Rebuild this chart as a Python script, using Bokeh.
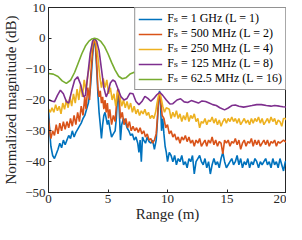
from bokeh.plotting import figure
from bokeh.models import Legend, LegendItem, Range1d, FixedTicker
from bokeh.embed import file_html
from bokeh.resources import INLINE

# ---------------- data ----------------
x_ticks = [0, 5, 10, 15, 20]
y_ticks = [-50, -40, -30, -20, -10, 0, 10]

series_labels = [
    "Fₛ = 1 GHz (L = 1)",
    "Fₛ = 500 MHz (L = 2)",
    "Fₛ = 250 MHz (L = 4)",
    "Fₛ = 125 MHz (L = 8)",
    "Fₛ = 62.5 MHz (L = 16)",
]

tail_x = [10.15, 10.3, 10.45, 10.6, 10.75, 10.9, 11.05, 11.2, 11.35, 11.5,
          11.65, 11.8, 11.95, 12.1, 12.25, 12.4, 12.55, 12.7, 12.85, 13.0,
          13.15, 13.3, 13.45, 13.6, 13.75, 13.9, 14.05, 14.2, 14.35, 14.5,
          14.65, 14.8, 14.95, 15.1, 15.25, 15.4, 15.55, 15.7, 15.85, 16.0,
          16.15, 16.3, 16.45, 16.6, 16.75, 16.9, 17.05, 17.2, 17.35, 17.5,
          17.65, 17.8, 17.95, 18.1, 18.25, 18.4, 18.55, 18.7, 18.85, 19.0,
          19.15, 19.3, 19.45, 19.6, 19.75, 19.9, 20.0]

# 1 GHz (L = 1)
blue_x = [0.0, 0.1, 0.2, 0.35, 0.5, 0.65, 0.8, 0.95, 1.1, 1.25,
          1.4, 1.55, 1.7, 1.85, 2.0, 2.15, 2.3, 2.45, 2.6, 2.75,
          2.9, 3.05, 3.2, 3.35, 3.5, 3.6, 3.7, 3.8, 3.87, 3.95,
          4.05, 4.15, 4.25, 4.35, 4.45, 4.55, 4.65, 4.75, 4.85, 4.95,
          5.05, 5.15, 5.3, 5.45, 5.6, 5.7, 5.8, 5.87, 5.95, 6.05,
          6.15, 6.3, 6.45, 6.6, 6.75, 6.9, 7.05, 7.2, 7.35, 7.5,
          7.6, 7.7, 7.8, 7.9, 8.0, 8.15, 8.3, 8.45, 8.6, 8.75,
          8.9, 9.05, 9.15, 9.25, 9.33, 9.42, 9.5, 9.6, 9.7, 9.8,
          9.9, 10.0] + tail_x
blue_y = [-23, -30, -35, -38, -39, -37.5, -36, -34, -35.5, -33,
          -34.5, -33, -31.5, -32.5, -30, -32, -30.5, -29.5, -28.5, -27.5,
          -26, -25, -23, -21, -17, -12, -6, -1.5, 0, -3,
          -10, -18, -24, -28, -32.5, -28, -25, -24, -26, -28,
          -26.5, -29, -32, -31, -30, -26, -19, -16.5, -24, -33,
          -28, -26, -27, -29, -30, -31.5, -31, -33, -32, -34,
          -37, -33, -40, -32, -33, -34, -32, -33.5, -34, -33,
          -36, -33, -27, -20, -17, -22, -30, -26, -31, -35,
          -37, -40,
          -37, -38, -40, -38, -41, -39, -40, -38, -41, -40,
          -42, -39, -40, -38, -44, -40, -39, -38, -40, -41,
          -39, -42, -40, -44, -41, -39, -41, -40, -42, -39,
          -37, -40, -42, -41, -40, -39, -41, -40, -38, -41,
          -39, -42, -40, -41, -39, -42, -40, -41, -39, -40,
          -42, -40, -41, -40, -39, -41, -40, -42, -39, -41,
          -40, -42, -39, -41, -43, -40, -40]

# 500 MHz (L = 2)
orange_x = [0.0, 0.1, 0.2, 0.35, 0.5, 0.65, 0.8, 0.95, 1.1, 1.25,
            1.4, 1.55, 1.7, 1.85, 2.0, 2.15, 2.3, 2.45, 2.6, 2.75,
            2.9, 3.05, 3.15, 3.3, 3.45, 3.55, 3.65, 3.75, 3.85, 3.95,
            4.05, 4.15, 4.25, 4.35, 4.45, 4.55, 4.65, 4.75, 4.85, 4.95,
            5.05, 5.15, 5.3, 5.45, 5.6, 5.7, 5.8, 5.87, 5.95, 6.05,
            6.2, 6.35, 6.5, 6.65, 6.8, 6.95, 7.1, 7.25, 7.4, 7.55,
            7.7, 7.85, 8.0, 8.15, 8.3, 8.45, 8.6, 8.75, 8.9, 9.05,
            9.15, 9.25, 9.35, 9.45, 9.55, 9.7, 9.85, 10.0] + tail_x
orange_y = [-26, -30, -32.5, -30, -31.5, -28, -31, -27.5, -30, -27,
            -29.5, -27, -29, -26, -28.5, -25, -28, -24, -27, -22,
            -25, -19, -23, -16, -20, -12, -7, -2, 0, -2,
            -8, -16, -19, -17, -21, -19, -23, -20, -24, -21,
            -26, -23, -28, -25, -27, -22, -17, -16.5, -20, -26,
            -24, -28, -26, -29, -27, -30, -28.5, -30, -29, -30.5,
            -29, -31, -30, -32, -31, -33, -32.5, -34, -33, -31,
            -26, -20, -18, -21, -25, -26, -29, -28,
            -31, -30, -32, -31, -33, -32, -34, -32, -33, -31.5,
            -33.5, -32, -34, -33, -35, -33, -34, -32.5, -35, -34,
            -33, -35, -33, -34, -32, -34.5, -33, -35, -33.5, -34,
            -37.5, -33, -34, -33, -35, -33.5, -34, -32.5, -34.5, -33,
            -36, -34, -33, -35, -33.5, -34, -32.5, -35, -33, -34.5,
            -33, -35, -34, -33, -34.5, -33, -35, -33.5, -34, -33,
            -35, -33.5, -34, -33.5, -33, -33.5, -33.5]

# 250 MHz (L = 4)
yellow_x = [0.0, 0.15, 0.3, 0.45, 0.6, 0.75, 0.9, 1.05, 1.2, 1.35,
            1.5, 1.65, 1.8, 1.95, 2.1, 2.25, 2.4, 2.55, 2.7, 2.85,
            3.0, 3.15, 3.3, 3.45, 3.6, 3.75, 3.87, 4.0, 4.15, 4.3,
            4.45, 4.6, 4.75, 4.9, 5.05, 5.2, 5.35, 5.5, 5.65, 5.78,
            5.88, 6.0, 6.15, 6.3, 6.45, 6.6, 6.75, 6.9, 7.05, 7.2,
            7.35, 7.5, 7.65, 7.8, 7.95, 8.1, 8.25, 8.4, 8.55, 8.7,
            8.85, 9.0, 9.12, 9.25, 9.35, 9.45, 9.6, 9.75, 9.9] + tail_x
yellow_y = [-23, -24, -22.5, -24, -21.5, -23.5, -22, -24.5, -21, -23,
            -20, -22.5, -19, -22, -18, -21, -16.5, -20, -15, -19,
            -13.5, -17, -12, -9, -4, -0.8, 0, -1.5, -6, -12,
            -16, -13, -16, -13.5, -18, -16, -20, -18, -22, -18,
            -17, -19, -22, -20, -22.5, -20.5, -23, -21, -24, -22,
            -24.5, -23, -25, -23.5, -24.5, -23, -25, -24, -26, -25,
            -26, -24, -21, -18.5, -17.5, -19, -22, -24, -22.5,
            -23, -26, -24, -25.5, -23.5, -26, -24.5, -27, -25, -26.5,
            -24, -27, -25, -26, -24.5, -27, -26, -29, -27, -27.5,
            -26, -28, -26.5, -27, -25.5, -27.5, -26, -28, -26.5, -28.5,
            -27, -26, -27.5, -26, -27, -25.5, -27, -26, -27.5, -26,
            -28, -27, -26, -27.5, -26.5, -28, -26, -27.5, -26, -27,
            -25.5, -27.5, -26, -28, -27, -26, -27.5, -25.5, -27, -26,
            -28, -26.5, -27, -28.5, -26, -26, -26.5]

# 125 MHz (L = 8)
purple_x = [0.0, 0.25, 0.5, 0.75, 1.0, 1.25, 1.5, 1.7, 1.95, 2.2,
            2.45, 2.7, 2.95, 3.1, 3.3, 3.5, 3.7, 3.87, 4.05, 4.25,
            4.45, 4.65, 4.85, 5.0, 5.2, 5.4, 5.6, 5.85, 6.1, 6.35,
            6.6, 6.85, 7.1, 7.35, 7.6, 7.85, 8.1, 8.35, 8.6, 8.85,
            9.1, 9.35, 9.6, 9.9, 10.2, 10.45, 10.8, 11.1, 11.4, 11.7,
            12.0, 12.3, 12.6, 12.9, 13.2, 13.5, 13.8, 14.1, 14.4, 14.8,
            15.1, 15.4, 15.7, 16.0, 16.4, 16.8, 17.1, 17.5, 17.9, 18.3,
            18.7, 19.0, 19.4, 19.7, 20.0]
purple_y = [-19.8, -20.3, -20.6, -18.5, -16.8, -18, -20.5, -21, -17, -13.5,
            -12.5, -15, -19, -18.5, -12, -5, -1, 0, -1, -4,
            -10, -16, -19, -17.5, -14.5, -13.5, -14, -16.5, -19, -20,
            -19.5, -17.8, -18, -20.5, -21.5, -20.5, -18.8, -19.5, -20.4, -19.5,
            -18.3, -17.5, -18.5, -20, -21.3, -21.2, -20, -19.6, -20.6, -20.8,
            -20.2, -20.6, -21, -20.3, -20.5, -21, -21.5, -21.8, -22.5, -23.2,
            -22.6, -21.8, -21.6, -22, -22.3, -22, -21.8, -21.5, -21.5, -21.8,
            -22, -21.8, -22, -22.2, -22.3]

# 62.5 MHz (L = 16)
green_x = [0.0, 0.4, 0.8, 1.15, 1.5, 1.85, 2.2, 2.5, 2.8, 3.1,
           3.4, 3.65, 3.87, 4.1, 4.4, 4.7, 5.0, 5.3, 5.6, 5.9,
           6.2, 6.5, 6.85, 7.2, 7.55, 7.9, 8.3, 8.7, 9.0, 9.3,
           9.7, 10.0, 10.35, 10.8, 11.3, 11.8, 12.3, 12.8, 13.3, 13.8,
           14.3, 14.8, 15.3, 15.8, 16.3, 16.8, 17.3, 17.8, 18.3, 18.8,
           19.3, 20.0]
green_y = [-11.4, -11.6, -12.4, -13.8, -14.6, -13.6, -11, -8, -5, -2.5,
           -0.9, -0.2, 0, -0.2, -1, -2.6, -5, -7.8, -10.3, -12.3,
           -13.1, -12.8, -11.6, -11, -11.8, -13.3, -14.4, -14.2, -13.5, -13.1,
           -13.6, -14.3, -14.8, -14.3, -13.9, -14.5, -15, -14.8, -14.6, -15.1,
           -15.3, -15.1, -15.2, -15.5, -15.2, -15.2, -15.4, -15.3, -15.4, -15.4,
           -15.5, -15.6]

series_x = [blue_x, orange_x, yellow_x, purple_x, green_x]
series_y = [blue_y, orange_y, yellow_y, purple_y, green_y]
for sx, sy in zip(series_x, series_y):
    assert len(sx) == len(sy), (len(sx), len(sy))

colors = ["#0072BD", "#D95319", "#EDB120", "#7E2F8E", "#77AC30"]

# ---------------- figure ----------------
FONT = "'Liberation Serif', 'DejaVu Serif', serif"
AX = "#262626"
TICK_FS = "13px"

p = figure(width=286, height=224,
           x_range=Range1d(0, 20), y_range=Range1d(-50, 10),
           output_backend="svg", toolbar_location=None,
           min_border_left=0, min_border_right=0,
           min_border_top=7, min_border_bottom=0,
           background_fill_color="white", border_fill_color="white")

p.outline_line_color = AX
p.outline_line_width = 1
p.xgrid.visible = False
p.ygrid.visible = False

p.xaxis.ticker = FixedTicker(ticks=x_ticks)
p.yaxis.ticker = FixedTicker(ticks=y_ticks)
p.xaxis.axis_label = "Range (m)"
p.yaxis.axis_label = "Normalized magnitude (dB)"

for ax in (p.xaxis[0], p.yaxis[0]):
    ax.axis_line_color = AX
    ax.major_tick_line_color = AX
    ax.major_tick_in = 3
    ax.major_tick_out = 0
    ax.minor_tick_line_color = None
    ax.major_label_text_font = FONT
    ax.major_label_text_font_size = TICK_FS
    ax.major_label_text_color = AX
    ax.axis_label_text_font = FONT
    ax.axis_label_text_font_size = "15px"
    ax.axis_label_text_font_style = "normal"
    ax.axis_label_text_color = AX

p.yaxis.major_label_standoff = 3
p.yaxis.axis_label_standoff = 3
p.xaxis.major_label_standoff = 2
p.xaxis.axis_label_standoff = 0

renderers = []
for sx, sy, c in zip(series_x, series_y, colors):
    r = p.line(sx, sy, line_color=c, line_width=1.6)
    renderers.append(r)

legend = Legend(items=[LegendItem(label=lab, renderers=[r])
                       for lab, r in zip(series_labels, renderers)],
                location="top_right")
legend.margin = 0
legend.padding = 3
legend.spacing = 0
legend.label_height = 12
legend.glyph_height = 12
legend.glyph_width = 24
legend.label_standoff = 5
legend.label_text_font = FONT
legend.label_text_font_size = "12px"
legend.label_text_color = "black"
legend.border_line_color = AX
legend.border_line_width = 1
legend.background_fill_color = "white"
legend.background_fill_alpha = 1
p.add_layout(legend)

open("out.html", "w").write(file_html(p, INLINE))
